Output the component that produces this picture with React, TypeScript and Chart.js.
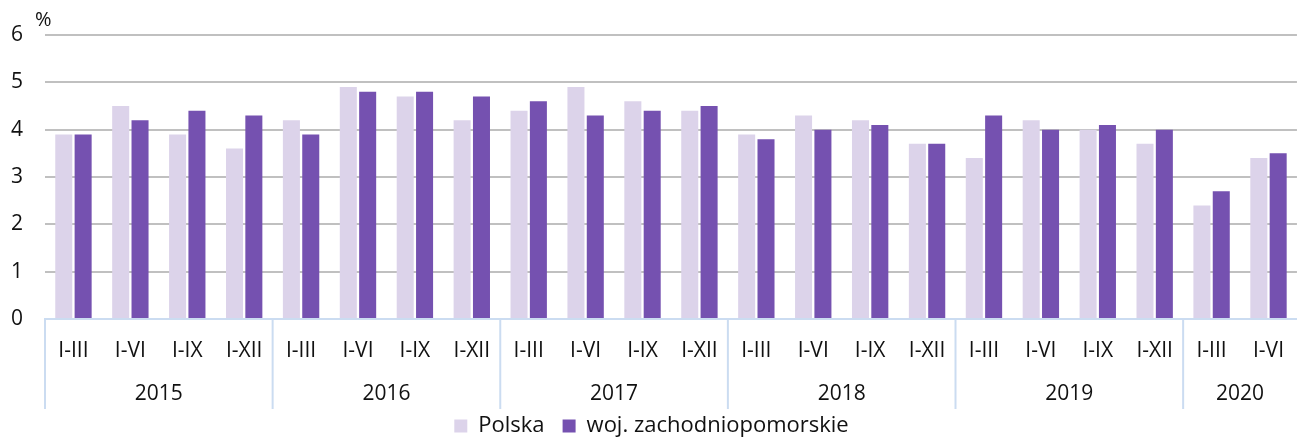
import React, { useEffect, useRef } from "react";
import { Chart, registerables } from "chart.js";

Chart.register(...registerables);

const periods = [
  "I-III", "I-VI", "I-IX", "I-XII",
  "I-III", "I-VI", "I-IX", "I-XII",
  "I-III", "I-VI", "I-IX", "I-XII",
  "I-III", "I-VI", "I-IX", "I-XII",
  "I-III", "I-VI", "I-IX", "I-XII",
  "I-III", "I-VI",
];
const years = ["2015", "2016", "2017", "2018", "2019", "2020"];
const yearSizes = [4, 4, 4, 4, 4, 2];

const polska = [
  3.9, 4.5, 3.9, 3.6,
  4.2, 4.9, 4.7, 4.2,
  4.4, 4.9, 4.6, 4.4,
  3.9, 4.3, 4.2, 3.7,
  3.4, 4.2, 4.0, 3.7,
  2.4, 3.4,
];
const zachodniopomorskie = [
  3.9, 4.2, 4.4, 4.3,
  3.9, 4.8, 4.8, 4.7,
  4.6, 4.3, 4.4, 4.5,
  3.8, 4.0, 4.1, 3.7,
  4.3, 4.0, 4.1, 4.0,
  2.7, 3.5,
];

const FONT = "'Open Sans', sans-serif";
const TEXT = "#111111";
const SEP = "#cbdcf1";

const groupPlugin = {
  id: "groups",
  afterDraw(chart: any) {
    const { ctx, chartArea, scales } = chart;
    const x = scales.x;
    const bottom = chartArea.bottom;
    ctx.save();
    ctx.strokeStyle = SEP;
    ctx.lineWidth = 2;
    let start = 0;
    yearSizes.forEach((size, g) => {
      const sepX =
        start === 0
          ? chartArea.left
          : (x.getPixelForValue(start - 1) + x.getPixelForValue(start)) / 2;
      ctx.beginPath();
      ctx.moveTo(sepX, bottom);
      ctx.lineTo(sepX, bottom + 90);
      ctx.stroke();
      const cx = (x.getPixelForValue(start) + x.getPixelForValue(start + size - 1)) / 2;
      ctx.fillStyle = TEXT;
      ctx.font = `21px ${FONT}`;
      ctx.textAlign = "center";
      ctx.textBaseline = "middle";
      ctx.fillText(years[g], cx, bottom + 75);
      start += size;
    });
    ctx.font = `20px ${FONT}`;
    ctx.textAlign = "left";
    ctx.textBaseline = "middle";
    ctx.fillStyle = TEXT;
    ctx.fillText("%", 35, 20);
    ctx.restore();
  },
};

export default function App() {
  const ref = useRef<HTMLCanvasElement>(null);
  useEffect(() => {
    const chart = new Chart(ref.current!, {
      type: "bar",
      data: {
        labels: periods,
        datasets: [
          {
            label: "Polska",
            data: polska,
            backgroundColor: "#dcd3ea",
            categoryPercentage: 0.68,
            barPercentage: 0.88,
          },
          {
            label: "woj. zachodniopomorskie",
            data: zachodniopomorskie,
            backgroundColor: "#7551b0",
            categoryPercentage: 0.68,
            barPercentage: 0.88,
          },
        ],
      },
      options: {
        animation: false,
        responsive: false,
        layout: { padding: { top: 35, right: 0, left: 0, bottom: 0 } },
        plugins: {
          legend: {
            position: "bottom",
            maxHeight: 40,
            labels: {
              font: { family: FONT, size: 22 },
              color: TEXT,
              boxWidth: 13,
              boxHeight: 13,
              padding: 18,
            },
          },
          tooltip: { enabled: false },
        },
        scales: {
          x: {
            grid: { display: false, drawTicks: false },
            border: { display: true, color: SEP, width: 2 },
            ticks: {
              font: { family: FONT, size: 21 },
              color: TEXT,
              padding: 19,
              maxRotation: 0,
              autoSkip: false,
            },
            afterFit(scale: any) {
              scale.height = 78;
            },
          },
          y: {
            min: 0,
            max: 6,
            ticks: {
              stepSize: 1,
              font: { family: FONT, size: 21 },
              color: TEXT,
              padding: 22,
            },
            grid: {
              drawTicks: false,
              color: (c: any) => (c.tick && c.tick.value === 0 ? "rgba(0,0,0,0)" : "#c0c0c0"),
              lineWidth: 2,
            },
            border: { display: false },
            afterFit(scale: any) {
              scale.width = 45;
            },
          },
        },
      },
      plugins: [groupPlugin],
    });
    return () => chart.destroy();
  }, []);
  return (
    <div style={{ position: "fixed", left: 0, top: 0, width: 1303, height: 437, background: "#fff" }}>
      <canvas ref={ref} width={1303} height={437} style={{ width: 1303, height: 437 }} />
    </div>
  );
}
